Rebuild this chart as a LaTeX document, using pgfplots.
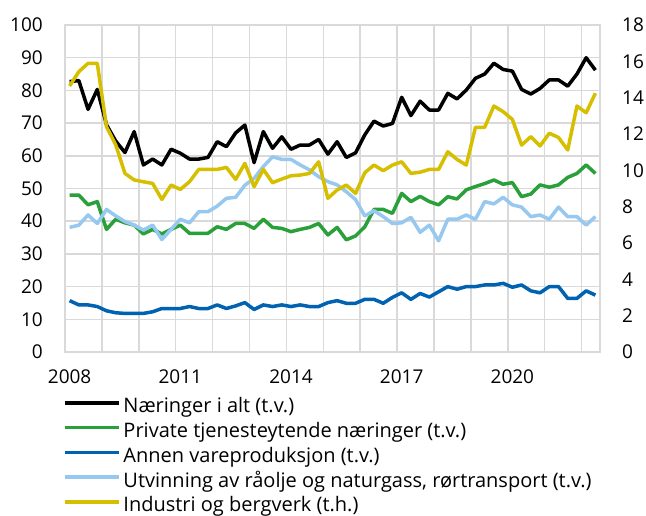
\documentclass[border=0pt]{standalone}
\usepackage{fontspec}
\setmainfont{Open Sans}
\usepackage{pgfplots}
\usepackage{pgfplotstable}
\pgfplotsset{compat=1.18}

\definecolor{cgreen}{RGB}{41,160,57}
\definecolor{cdblue}{RGB}{0,98,177}
\definecolor{clblue}{RGB}{150,200,240}
\definecolor{cyellow}{RGB}{214,191,0}
\definecolor{cgrid}{RGB}{217,217,217}

% quarterly, 2008Q1 - 2022Q2; ind is on the right axis
\pgfplotstableread{
t       alt   tjen  vare  utv   ind
2008.00 82.7  48.0  15.7  38.1  14.64
2008.25 83.0  48.0  14.4  38.8  15.43
2008.50 74.2  45.0  14.4  41.9  15.89
2008.75 80.3  46.0  13.9  39.3  15.89
2009.00 69.5  37.5  12.6  43.6  12.40
2009.25 64.5  40.6  12.0  41.6  11.40
2009.50 61.0  39.5  11.8  39.9  9.83
2009.75 67.4  38.8  11.8  38.8  9.47
2010.00 57.2  36.1  11.8  37.3  9.37
2010.25 59.0  37.5  12.3  38.8  9.28
2010.50 57.2  36.1  13.3  34.4  8.40
2010.75 62.0  37.5  13.3  37.5  9.19
2011.00 60.8  38.8  13.3  40.6  8.95
2011.25 59.0  36.3  13.9  39.5  9.37
2011.50 59.0  36.3  13.3  42.9  10.05
2011.75 59.5  36.3  13.3  42.9  10.05
2012.00 64.3  38.3  14.4  44.6  10.05
2012.25 62.8  37.5  13.3  47.0  10.16
2012.50 67.0  39.3  14.1  47.3  9.50
2012.75 69.4  39.3  15.1  51.0  10.38
2013.00 57.9  37.8  13.0  53.1  9.10
2013.25 67.4  40.6  14.4  56.7  10.05
2013.50 62.3  38.1  13.9  59.7  9.32
2013.75 65.8  37.8  14.4  58.9  9.52
2014.00 62.0  36.8  13.9  58.9  9.70
2014.25 63.3  37.5  14.4  57.2  9.74
2014.50 63.3  38.1  13.9  55.7  9.83
2014.75 65.0  39.3  13.9  53.6  10.47
2015.00 60.5  35.8  15.1  52.1  8.46
2015.25 64.3  38.1  15.7  51.1  8.92
2015.50 59.5  34.3  14.9  49.0  9.19
2015.75 60.9  35.5  14.9  46.6  8.73
2016.00 66.4  38.3  16.1  41.6  9.87
2016.25 70.6  43.6  16.1  43.2  10.29
2016.50 69.1  43.6  14.9  41.4  9.98
2016.75 69.9  42.4  16.7  39.3  10.29
2017.00 77.9  48.5  18.1  39.5  10.47
2017.25 72.3  46.0  16.1  41.2  9.83
2017.50 76.7  47.6  17.9  36.6  9.90
2017.75 74.0  46.0  16.8  38.8  10.05
2018.00 74.0  45.0  18.4  34.0  10.05
2018.25 79.1  47.5  20.0  40.6  11.02
2018.50 77.4  46.8  19.2  40.6  10.60
2018.75 80.1  49.6  20.0  41.9  10.29
2019.00 83.7  50.6  20.0  40.6  12.37
2019.25 85.0  51.5  20.5  46.0  12.37
2019.50 88.3  52.6  20.5  45.3  13.54
2019.75 86.4  51.3  21.0  47.3  13.23
2020.00 85.9  51.8  19.8  45.0  12.80
2020.25 80.3  47.5  20.5  44.3  11.39
2020.50 78.9  48.3  18.7  41.4  11.85
2020.75 80.6  51.1  18.1  41.9  11.34
2021.00 83.2  50.4  20.0  40.6  12.04
2021.25 83.2  51.1  20.0  44.3  11.81
2021.50 81.3  53.4  16.4  41.4  11.12
2021.75 85.0  54.6  16.4  41.4  13.54
2022.00 90.0  57.2  18.7  38.8  13.17
2022.25 86.2  54.6  17.4  41.4  14.24
}\data

\pgfplotsset{
  base/.style={
    scale only axis, width=535pt, height=327pt,
    xmin=2007.875, xmax=2022.375,
    tick style={draw=none},
    ticklabel style={font=\fontsize{19}{23}\selectfont, inner sep=0pt},
    /pgf/number format/assume math mode=true,
    /pgf/number format/1000 sep={},
  },
  ln/.style={line width=3.5pt, line join=round, no markers},
}

\begin{document}
\begin{tikzpicture}
\useasboundingbox (-65pt,-164pt) rectangle (581pt,352pt);
\begin{axis}[base,
  ymin=0, ymax=100, ytick={0,10,...,100},
  xtick={2007.875,2008.875,2009.875,2010.875,2011.875,2012.875,2013.875,
         2014.875,2015.875,2016.875,2017.875,2018.875,2019.875,2020.875,2021.875},
  xticklabels={},
  extra x ticks={2008,2011,2014,2017,2020},
  extra x tick style={grid=none},
  xticklabel style={yshift=-18pt},
  yticklabel style={xshift=-22pt},
  grid=major, major grid style={cgrid, line width=1.5pt},
  axis line style={cgrid, line width=1.5pt},
]
\addplot[ln, black] table[x=t, y=alt] {\data};
\addplot[ln, cgreen] table[x=t, y=tjen] {\data};
\addplot[ln, cdblue] table[x=t, y=vare] {\data};
\addplot[ln, clblue] table[x=t, y=utv] {\data};
\end{axis}

\begin{axis}[base,
  ymin=0, ymax=18, ytick={0,2,...,18},
  axis x line=none, axis y line*=right, y axis line style={draw=none},
  yticklabel style={xshift=22pt, anchor=west},
  legend cell align=left,
  legend image code/.code={\draw[#1] (0pt,5.5pt) -- (54pt,5.5pt);},
  legend style={at={(0,0)}, anchor=north west, yshift=-47pt, xshift=-2pt,
    draw=none, fill=none, inner sep=0pt, outer sep=0pt,
    font=\fontsize{20}{23}\selectfont, row sep=5.7pt, column sep=3pt,
    nodes={inner sep=0pt, text height=14pt, text depth=5pt}},
]
\addlegendimage{ln, black}
\addlegendentry{Næringer i alt (t.v.)}
\addlegendimage{ln, cgreen}
\addlegendentry{Private tjenesteytende næringer (t.v.)}
\addlegendimage{ln, cdblue}
\addlegendentry{Annen vareproduksjon (t.v.)}
\addlegendimage{ln, clblue}
\addlegendentry{Utvinning av råolje og naturgass, rørtransport (t.v.)}
\addplot[ln, cyellow] table[x=t, y=ind] {\data};
\addlegendentry{Industri og bergverk (t.h.)}
\end{axis}
\end{tikzpicture}
\end{document}
